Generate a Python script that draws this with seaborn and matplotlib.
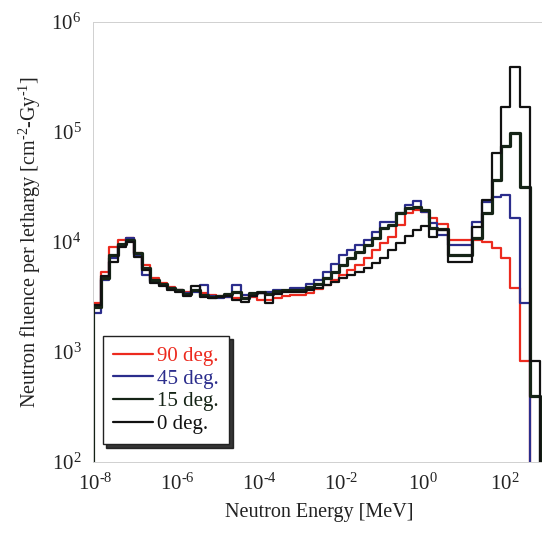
import numpy as np
import pandas as pd
import matplotlib
matplotlib.use("Agg")
import matplotlib.pyplot as plt
import matplotlib.ticker as mticker
import seaborn as sns

# ---- data ----
# log10 of bin edges (MeV)
edges_log10 = [-8.05, -7.85, -7.65, -7.45, -7.25, -7.05, -6.85, -6.65, -6.45, -6.25,
               -6.05, -5.85, -5.65, -5.45, -5.25, -5.05, -4.85, -4.65, -4.45, -4.25,
               -4.05, -3.85, -3.65, -3.45, -3.25, -3.05, -2.85, -2.65, -2.45, -2.25,
               -2.05, -1.85, -1.65, -1.45, -1.25, -1.05, -0.85, -0.65, -0.45, -0.25,
               -0.05, 0.15, 0.35, 0.6, 0.85, 1.2, 1.44, 1.68, 1.9, 2.12, 2.37, 2.61, 2.86]

flux_90 = [2790, 5340, 9010, 10400, 10900, 7940, 6180, 4710, 4240, 3900,
           3660, 3510, 3580, 3440, 3300, 3230, 3160, 3100, 3100, 3160,
           2970, 2970, 3100, 3230, 3300, 3300, 3440, 3740, 4060, 4510,
           5010, 5560, 6180, 7150, 8460, 9790, 11100, 14300, 18300, 19500,
           18700, 16500, 14600,
           10400, 10400, 10400, 10000, 8820, 7150, 3820, 828]

flux_45 = [2260, 4510, 7150, 9390, 10900, 7620, 5010, 4330, 4060, 3820,
           3660, 3440, 3510, 4060, 3230, 3100, 3160, 4060, 3300, 3230,
           3440, 3510, 3660, 3580, 3820, 3820, 4150, 4510, 5340, 6310,
           7620, 8460, 9390, 10400, 12300, 15200, 15200, 18300, 21700, 23600,
           18700, 14900, 11600,
           9390, 9390, 15200, 23100, 25500, 26700, 16500, 2790]

flux_15 = [2570, 4710, 7620, 9590, 10400, 7940, 5800, 4510, 4150, 3820,
           3660, 3370, 3660, 3300, 3160, 3230, 3370, 3510, 3100, 3440,
           3510, 3370, 3580, 3660, 3660, 3660, 3900, 4150, 4710, 5340,
           6180, 7150, 8110, 9390, 10900, 13400, 14300, 18300, 20400, 20800,
           19500, 13400, 13100,
           7620, 7620, 10900, 18300, 36600, 74600, 98000, 31600, 398]

flux_0 = [2670, 4910, 6580, 9010, 10000, 7310, 5560, 4240, 3980, 3660,
          3510, 3230, 3980, 3160, 3100, 3160, 3230, 2970, 2850, 3230,
          3440, 2790, 3370, 3510, 3510, 3510, 3660, 3820, 4060, 4330,
          4710, 5010, 5340, 5800, 6440, 7150, 8460, 9790, 11300, 12900,
          14000, 11100, 12900,
          6580, 6580, 13700, 24100, 64400, 169000, 390000, 169000, 828]

series_labels = ["90 deg.", "45 deg.", "15 deg.", "0 deg."]
x_tick_exps = [-8, -6, -4, -2, 0, 2]
y_tick_exps = [2, 3, 4, 5, 6]

# ---- styling ----
sns.set_style("white")
plt.rcParams["font.family"] = ["Liberation Serif", "DejaVu Serif"]
plt.rcParams["mathtext.fontset"] = "custom"
plt.rcParams["mathtext.rm"] = "Liberation Serif"
plt.rcParams["mathtext.it"] = "Liberation Serif:italic"
plt.rcParams["mathtext.bf"] = "Liberation Serif:bold"

colors = ["#ec2a1e", "#2b2d8c", "#152416", "#111111"]
widths = [1.6, 1.6, 2.3, 1.6]

fig = plt.figure(figsize=(5.42, 5.37), dpi=100)
ax = fig.add_axes([92.5 / 542, 75 / 537, (546 - 92.5) / 542, 440 / 537])

edges = 10.0 ** np.array(edges_log10)
floor = 1.0

for vals, lab, col, lw in zip([flux_90, flux_45, flux_15, flux_0], series_labels, colors, widths):
    n = len(vals)
    xs = [edges[0]] + list(edges[:n]) + [edges[n]]
    ys = [floor] + list(vals) + [floor]
    df = pd.DataFrame({"E": xs, "F": ys})
    sns.lineplot(data=df, x="E", y="F", ax=ax, estimator=None, sort=False,
                 drawstyle="steps-post", color=col, lw=lw, label=lab)

ax.set_xscale("log")
ax.set_yscale("log")
ax.set_xlim(10 ** -8.06, 10 ** 3.0)
ax.set_ylim(1e2, 1e6)


def exp_label(e):
    if e < 0:
        return r"$10^{\text{-}%d}$" % (-e)
    return r"$10^{%d}$" % e


ax.xaxis.set_major_locator(mticker.FixedLocator([10.0 ** e for e in x_tick_exps]))
ax.xaxis.set_major_formatter(mticker.FixedFormatter([exp_label(e) for e in x_tick_exps]))
ax.xaxis.set_minor_locator(mticker.LogLocator(base=10, subs=np.arange(1, 10), numticks=100))
ax.xaxis.set_minor_formatter(mticker.NullFormatter())
ax.yaxis.set_major_locator(mticker.FixedLocator([10.0 ** e for e in y_tick_exps]))
ax.yaxis.set_major_formatter(mticker.FixedFormatter([exp_label(e) for e in y_tick_exps]))
ax.yaxis.set_minor_locator(mticker.LogLocator(base=10, subs=np.arange(1, 10), numticks=100))
ax.yaxis.set_minor_formatter(mticker.NullFormatter())

ax.tick_params(which="both", direction="in", color="#c8c8c8", labelsize=15, labelcolor="#222222")
ax.tick_params(which="major", length=4, width=0.6, pad=8)
ax.tick_params(which="minor", length=2, width=0.5)
for s in ax.spines.values():
    s.set_color("#d0d0d0")
    s.set_linewidth(0.7)

ax.set_xlabel("Neutron Energy [MeV]", fontsize=14.5, color="#222222", labelpad=6)
ax.set_ylabel(r"Neutron fluence per lethargy [cm$^{\text{-}2}$-Gy$^{\text{-}1}$]", fontsize=14.5,
              color="#222222", labelpad=6)

leg = ax.legend(loc="lower left", bbox_to_anchor=(0.023, 0.04), borderaxespad=0,
                frameon=True, fancybox=False,
                shadow={"color": "#111111", "alpha": 0.85, "ox": 2.5, "oy": -2.5},
                edgecolor="#222222", fontsize=15, handlelength=1.9,
                handletextpad=0.2, borderpad=0.5, labelspacing=0.15,
                labelcolor="linecolor")
leg.get_frame().set_linewidth(1.0)
for h in leg.get_lines():
    h.set_linewidth(1.6)

fig.savefig("out.png", dpi=100)
